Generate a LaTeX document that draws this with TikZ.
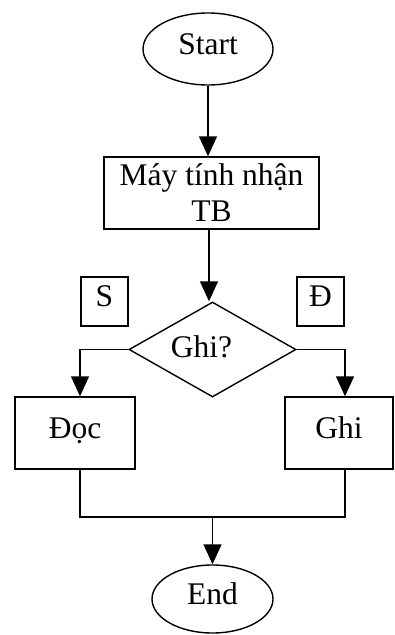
\documentclass[tikz,border=0pt]{standalone}
\usepackage{fontspec}
\setmainfont{Liberation Serif}
\usetikzlibrary{arrows.meta,shapes.geometric}
\begin{document}
\begin{tikzpicture}[x=1pt,y=-1pt,
  line width=1.4pt,
  txt/.style={font=\fontsize{31.5}{36}\selectfont},
  oneline/.style={txt, text height=22pt, text depth=12pt},
  term/.style={draw, ellipse, inner sep=0pt, oneline},
  proc/.style={draw, rectangle, inner sep=0pt, oneline},
  multi/.style={draw, rectangle, inner sep=0pt, txt, align=center},
  decision/.style={draw, diamond, inner sep=0pt, aspect=1.77},
  tag/.style={draw, rectangle, inner sep=0pt, oneline, minimum width=47pt, minimum height=49pt},
  flow/.style={-{Triangle[length=20pt,width=18pt]}}
]
\useasboundingbox (0,0) rectangle (395,635);

% terminals
\node[term, minimum width=130pt, minimum height=72pt] (start) at (208,49) {Start};
\node[term, minimum width=121pt, minimum height=68pt] (stop) at (212.5,599) {End};

% steps
\node[multi, minimum width=215pt, minimum height=72pt] (recv) at (211.5,193) {Máy tính nhận\\TB};
\node[decision, minimum width=167pt, minimum height=95pt,
      label={[txt, xshift=-11pt, yshift=3pt]center:Ghi?}] (dec) at (212.5,349.5) {};
\node[proc, minimum width=120pt, minimum height=72pt] (doc) at (75,433) {Đọc};
\node[proc, minimum width=108pt, minimum height=72pt] (ghi) at (339,433) {Ghi};

% branch tags
\node[tag] (no) at (104.5,301.5) {S};
\node[tag] (yes) at (320.5,301.5) {Đ};

% connectors
\coordinate (merge) at (212.5,517);
\draw[flow] (start.south) -- (start.south |- recv.north);
\draw[flow] ([xshift=-2.5pt]recv.south) -- ([xshift=-2.5pt]recv.south |- dec.north);
\draw[flow] (dec.west) -| ([xshift=5pt]doc.north);
\draw[flow] (dec.east) -| ([xshift=6pt]ghi.north);
\draw ([xshift=5pt]doc.south) |- (merge) -| ([xshift=6pt]ghi.south);
\draw[flow] (merge) -- (stop.north);
\end{tikzpicture}
\end{document}
